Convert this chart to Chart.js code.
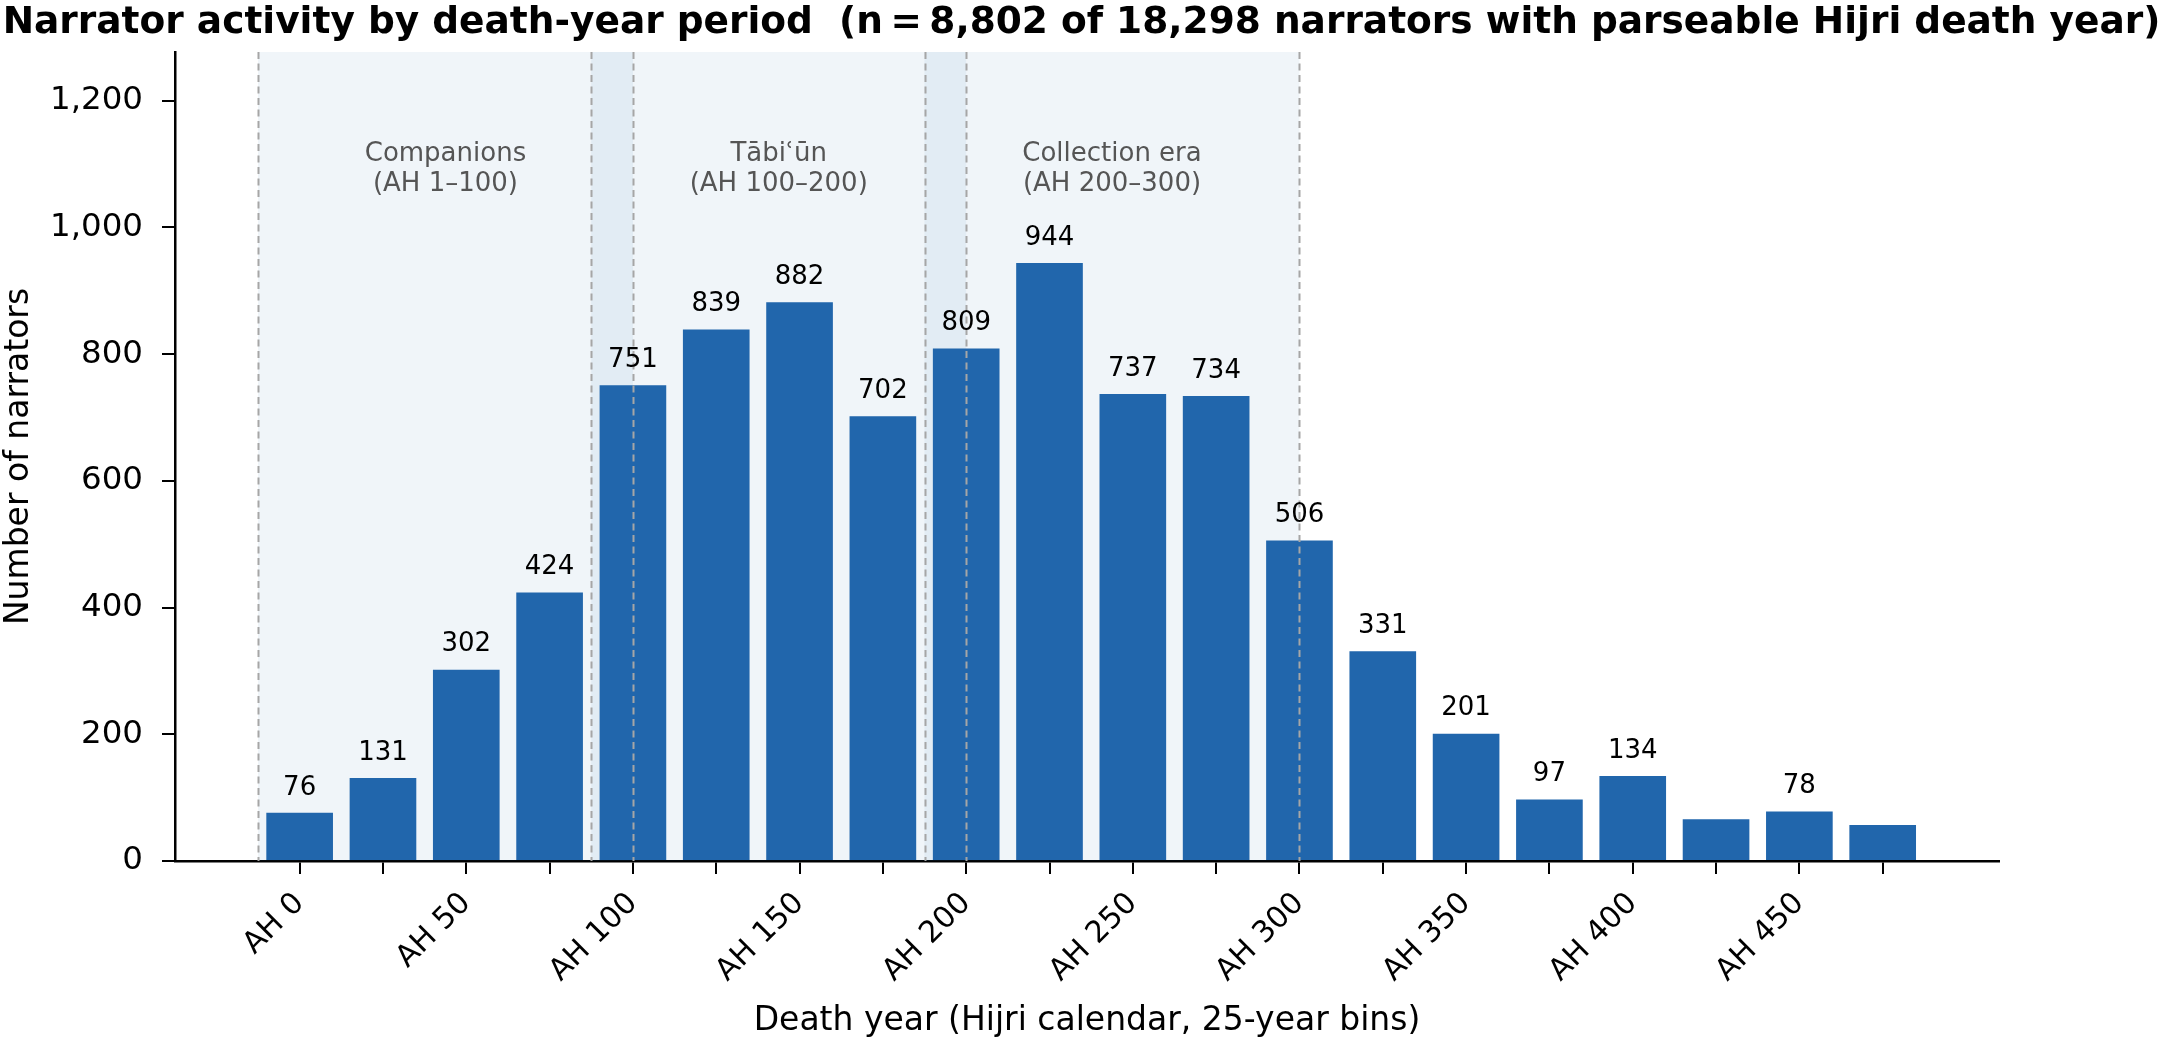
<!DOCTYPE html>
<html>
<head>
<meta charset="utf-8">
<script src="https://cdn.jsdelivr.net/npm/chart.js@4.4.1/dist/chart.umd.min.js"></script>
<style>
  html,body{margin:0;padding:0;background:#fff;}
  #myChart{display:block;}
</style>
</head>
<body>
<canvas id="myChart" width="2163" height="1041"></canvas>
<script>
// bins (start year of each 25-year bin) and narrator counts
var binStarts=[0,25,50,75,100,125,150,175,200,225,250,275,300,325,350,375,400,425,450,475];
var counts=[76,131,302,424,751,839,882,702,809,944,737,734,506,331,201,97,134,66,78,57];
var yTicks=[0,200,400,600,800,1000,1200];
var xTicks=binStarts;
// era shading
var eraNames=['Companions','Tābiʿūn','Collection era'];
var eraRanges=['(AH 1–100)','(AH 100–200)','(AH 200–300)'];
var eraFrom=[-12.5,87.5,187.5];
var eraTo=[100,200,300];
var labelMin=70;

var titleText='Narrator activity by death-year period  (n\u2009=\u20098,802 of 18,298 narrators with parseable Hijri death year)';
var FONT='"DejaVu Sans"';
Chart.defaults.font.family=FONT;
Chart.defaults.color='#000';

function fmt(v){return v.toString().replace(/\B(?=(\d{3})+(?!\d))/g,',');}

var overlay={
    id:'overlay',
    beforeDatasetsDraw:function(chart){
        var ctx=chart.ctx,a=chart.chartArea,x=chart.scales.x;
        ctx.save();
        ctx.fillStyle='rgba(33,102,172,0.068)';
        for(var i=0;i<eraFrom.length;i++){
            var l=x.getPixelForValue(eraFrom[i]),r=x.getPixelForValue(eraTo[i]);
            ctx.fillRect(l,a.top,r-l,a.bottom-a.top);
        }
        ctx.restore();
    },
    afterDatasetsDraw:function(chart){
        var ctx=chart.ctx,a=chart.chartArea,x=chart.scales.x,y=chart.scales.y;
        ctx.save();
        // dashed era edges
        ctx.strokeStyle='#a6a6a6';
        ctx.lineWidth=2;
        ctx.setLineDash([7,4.5]);
        for(var i=0;i<eraFrom.length;i++){
            [eraFrom[i],eraTo[i]].forEach(function(v){
                var px=Math.round(x.getPixelForValue(v))+0.5;
                ctx.beginPath();ctx.moveTo(px,a.top);ctx.lineTo(px,a.bottom);ctx.stroke();
            });
        }
        ctx.setLineDash([]);
        // era captions
        ctx.fillStyle='#555';
        ctx.font='26px '+FONT;
        ctx.textAlign='center';
        ctx.textBaseline='middle';
        for(var i=0;i<eraNames.length;i++){
            var cx=x.getPixelForValue((eraFrom[i]+eraTo[i])/2);
            var cy=y.getPixelForValue(1116);
            ctx.fillText(eraNames[i],cx,cy);
            ctx.fillText(eraRanges[i],cx,cy+30);
        }
        // value labels
        ctx.fillStyle='#000';
        ctx.textBaseline='bottom';
        var meta=chart.getDatasetMeta(0);
        meta.data.forEach(function(bar,i){
            if(counts[i]<labelMin)return;
            ctx.fillText(String(counts[i]),bar.x,bar.y-12);
        });
        ctx.restore();
    },
    afterDraw:function(chart){
        var ctx=chart.ctx;
        ctx.save();
        ctx.font='bold 37.5px '+FONT;
        ctx.fillStyle='#000';
        ctx.textAlign='center';
        ctx.textBaseline='alphabetic';
        ctx.fillText(titleText,chart.width/2,33);
        ctx.restore();
    }
};

var ctx=document.getElementById('myChart').getContext('2d');
var chart=new Chart(ctx,{
    type:'bar',
    data:{
        datasets:[{
            data:binStarts.map(function(b,i){return {x:b,y:counts[i]};}),
            backgroundColor:'#2166ac',
            borderWidth:0,
            barPercentage:0.8,
            categoryPercentage:1.0
        }]
    },
    options:{
        responsive:false,
        animation:false,
        layout:{padding:{top:52,right:164,left:0,bottom:0}},
        plugins:{legend:{display:false},tooltip:{enabled:false},title:{display:false}},
        scales:{
            x:{
                type:'linear',
                min:-37.4,max:509.9,
                offset:false,
                afterBuildTicks:function(s){s.ticks=xTicks.map(function(v){return {value:v};});},
                afterFit:function(s){s.height=180;},
                grid:{display:true,offset:false,drawOnChartArea:false,drawTicks:true,tickLength:13,color:'#000',lineWidth:2},
                border:{display:true,color:'#000',width:2.5},
                ticks:{
                    autoSkip:false,minRotation:45,maxRotation:45,padding:12,
                    font:{size:30},color:'#000',
                    callback:function(v){return v%50===0?'AH '+v:'';}
                },
                title:{display:true,text:'Death year (Hijri calendar, 25-year bins)',font:{size:33},color:'#000',padding:{top:0,bottom:0}}
            },
            y:{
                min:0,max:1277,
                afterBuildTicks:function(s){s.ticks=yTicks.map(function(v){return {value:v};});},
                afterFit:function(s){s.width=175;},
                grid:{display:true,drawOnChartArea:false,drawTicks:true,tickLength:13,color:'#000',lineWidth:2},
                border:{display:true,color:'#000',width:2.5},
                ticks:{font:{size:32.5},color:'#000',padding:19,callback:function(v){return fmt(v);}},
                title:{display:true,text:'Number of narrators',font:{size:33},color:'#000',padding:{top:0,bottom:0}}
            }
        }
    },
    plugins:[overlay]
});
</script>
</body>
</html>
